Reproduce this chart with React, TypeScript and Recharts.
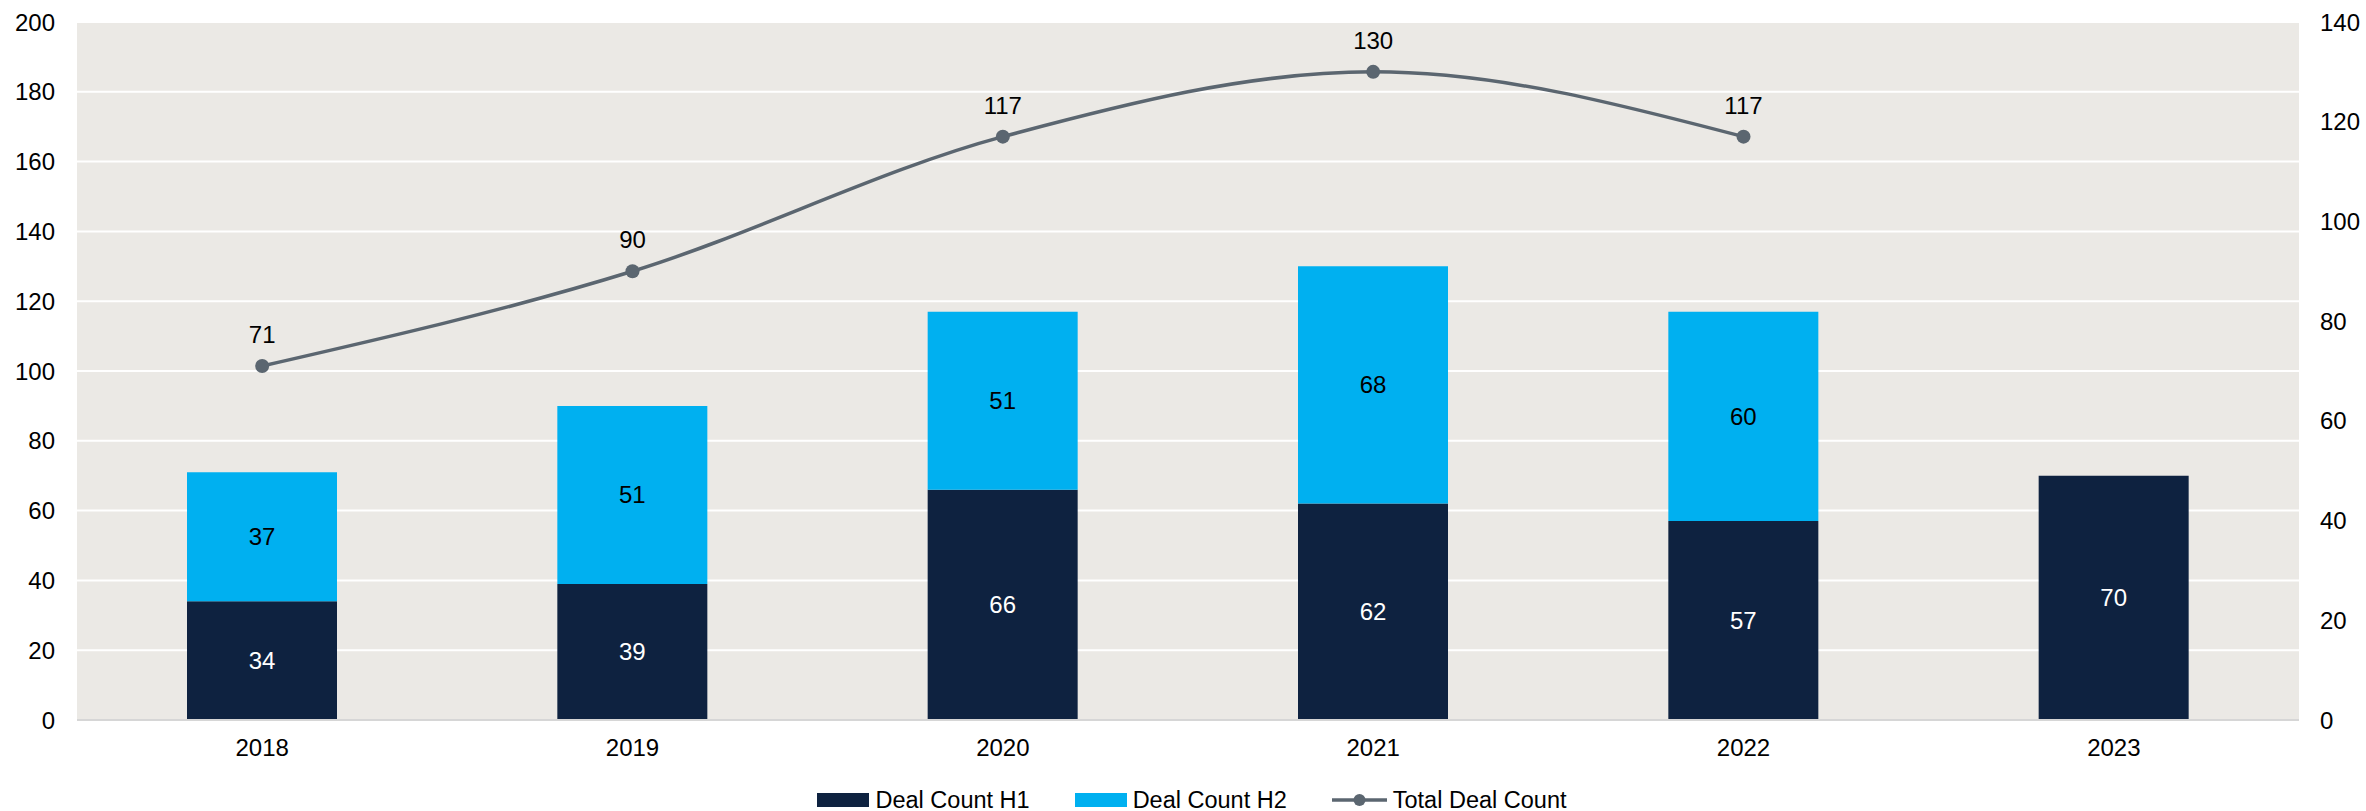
import React from "react";
import {
  ComposedChart,
  Bar,
  Line,
  XAxis,
  YAxis,
  CartesianGrid,
  LabelList,
} from "recharts";

const years = ["2018", "2019", "2020", "2021", "2022", "2023"];
const dealCountH1 = [34, 39, 66, 62, 57, 70];
const dealCountH2: (number | null)[] = [37, 51, 51, 68, 60, null];
const totalDealCount: (number | null)[] = [71, 90, 117, 130, 117, null];
const leftTicks = [0, 20, 40, 60, 80, 100, 120, 140, 160, 180, 200];
const rightTicks = [0, 20, 40, 60, 80, 100, 120, 140];

const seriesNames = ["Deal Count H1", "Deal Count H2", "Total Deal Count"];

const NAVY = "#0E2240";
const BLUE = "#00B0F0";
const GREY = "#5B6670";
const FONT = "'Liberation Sans', Arial, sans-serif";
const FS = 24;

const data = years.map((y, i) => ({
  year: y,
  h1: dealCountH1[i],
  h2: dealCountH2[i],
  total: totalDealCount[i],
}));

const tickStyle = { fill: "#000", fontSize: FS, fontFamily: FONT };

export default function App() {
  return (
    <div style={{ position: "absolute", left: 0, top: 0, width: 2366, height: 811, background: "#fff", fontFamily: FONT }}>
      <ComposedChart
        width={2366}
        height={811}
        data={data}
        margin={{ top: 22, right: 0, bottom: 0, left: 0 }}
        barCategoryGap={0}
      >
        <CartesianGrid
          vertical={false}
          horizontal={true}
          stroke="#FFFFFF"
          strokeWidth={2}
          fill="#EBE9E5"
          yAxisId="left"
        />
        <XAxis
          dataKey="year"
          height={91}
          tickLine={false}
          tickSize={0}
          tickMargin={19}
          axisLine={{ stroke: "#D6D6D6", strokeWidth: 2 }}
          tick={tickStyle}
          interval={0}
        />
        <YAxis
          yAxisId="left"
          orientation="left"
          width={77}
          domain={[0, 200]}
          ticks={leftTicks}
          tickLine={false}
          tickSize={0}
          axisLine={false}
          tickMargin={22}
          tick={tickStyle}
          interval={0}
        />
        <YAxis
          yAxisId="right"
          orientation="right"
          width={67}
          domain={[0, 140]}
          ticks={rightTicks}
          tickLine={false}
          tickSize={0}
          axisLine={false}
          tickMargin={21}
          tick={tickStyle}
          interval={0}
        />
        <Bar yAxisId="left" dataKey="h1" stackId="s" fill={NAVY} barSize={150} isAnimationActive={false}>
          <LabelList dataKey="h1" position="center" fill="#FFFFFF" fontSize={FS} fontFamily={FONT} />
        </Bar>
        <Bar yAxisId="left" dataKey="h2" stackId="s" fill={BLUE} barSize={150} isAnimationActive={false}>
          <LabelList dataKey="h2" position="center" fill="#000000" fontSize={FS} fontFamily={FONT} />
        </Bar>
        <Line
          yAxisId="right"
          dataKey="total"
          type="monotone"
          stroke={GREY}
          strokeWidth={3.5}
          dot={{ r: 7, fill: GREY, stroke: GREY, strokeWidth: 0 }}
          activeDot={false}
          connectNulls={false}
          isAnimationActive={false}
        >
          <LabelList dataKey="total" position="top" offset={23} fill="#000000" fontSize={FS} fontFamily={FONT} />
        </Line>
      </ComposedChart>
      <div
        style={{
          position: "absolute",
          left: 9,
          top: 786,
          width: 2366,
          display: "flex",
          justifyContent: "center",
          alignItems: "center",
          fontSize: 23.5,
          color: "#000",
          fontFamily: FONT,
          lineHeight: "28px",
        }}
      >
        {seriesNames.map((name, i) => (
          <div key={name} style={{ display: "flex", alignItems: "center", marginLeft: i === 0 ? 0 : 45 }}>
            {i < 2 ? (
              <div style={{ width: 52, height: 14, background: i === 0 ? NAVY : BLUE }} />
            ) : (
              <svg width={55} height={14}>
                <line x1={0} y1={7} x2={55} y2={7} stroke={GREY} strokeWidth={3.5} />
                <circle cx={27.5} cy={7} r={6} fill={GREY} />
              </svg>
            )}
            <span style={{ marginLeft: 6 }}>{name}</span>
          </div>
        ))}
      </div>
    </div>
  );
}
